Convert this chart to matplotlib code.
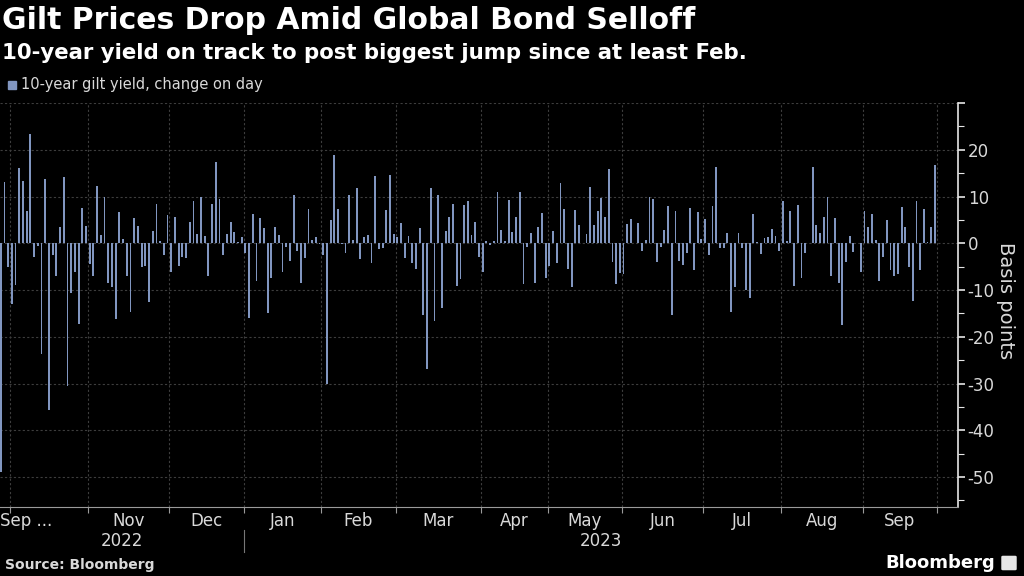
import matplotlib
matplotlib.use("Agg")
import numpy as np
import matplotlib.pyplot as plt
from matplotlib.patches import Rectangle, FancyBboxPatch
from matplotlib.ticker import MultipleLocator, FixedLocator, NullFormatter

plt.rcParams["axes.unicode_minus"] = False

# daily change of the UK 10-year gilt yield, basis points
change_bp = [
    -49, 13.2, -5, -12.9, -8.9, 16, 13.4, 7, 23.4, -2.9, -0.6, -23.6, 13.7,
    -35.7, -2.5, -7, 3.4, 14.1, -30.6, -10.7, -6.1, -17.3, 7.5, 3.7, -4.4, -7,
    12.3, 1.7, 10, -8.4, -9.3, -16.3, 6.6,
    0.9, -7.1, -14.6, 5.4, 3.7, -5.1, -4.9, -12.5, 2.6, 8.4, 0.4, -2.5, 6.1,
    -6.1, 5.6, -4.9, -2.9, -3.2, 4.6, 9.1, 2, 10, 1.6, -7.1, 8.4, 17.3, 9.4,
    -2.5, 1.9, 4.6, 2.5,
    0.3, 1.3, -2.1, -15.9, 6.3, -8, 5.4, 3.2, -14.9, -7.4, 3.4, 1.8, -6.1,
    -0.9, -3.7, 10.3, -1.6, -8.4, -3.2, 7.4, 0.6, 1.3, -0.2, -2.5, -30, 5,
    18.9, 7.3, -0.2, -2, 10.4,
    0.6, 11.9, -3.4, 1.3, 1.7, -4.3, 14.3, -1.3, -1.1, 7.1, 14.6, 2, 1.3, 4.3,
    -3.2, 1.6, -4.3, -5.6, 3.2, -15.4, -26.8, 11.8, -16.6, 10.4, -13.9, 2.6,
    5.7, 8.4, -9.1, -7.6, 8.2,
    9.1, 1.7, 4.6, -2.9, -6.1, 0.4, -0.4, 0.4, 11, 2.9, 0.4, 9.2, 2.4, 5.6,
    10.9, -8.7, -0.9, 2.2, -8.6, 3.5, 6.4, -7.5, -4.9, 2.6, -4.3, 12.9, 7.4,
    -5.4, -9.3, 7.1, 3.9,
    0.1, 2, 12.1, 3.9, 6.8, 9.6, 5.6, 15.9, -3.9, -8.7, -6.3, -6.5, 4.1, 5.1,
    0.1, 4.4, -1.7, 0.7, 10, 9.5, -4.1, -0.7, 2.9, 7.9, -15.4, 6.8, -3.7,
    -4.6, -2, 7.5, -5.7,
    6.6, 0.9, 5.1, -2.5, 7.9, 16.4, -1.1, -1.1, 2.1, -14.8, -9.3, 2.1, -1.1,
    -10, -11.6, 6.2, 0.3, -2.3, 1.1, 1.4, 3, 1.6, -1.6, 9, 0.4, 6.8, -9.1,
    8.1, -7.5, -2,
    0.1, 16.3, 3.9, 2.3, 5.7, 10, -7.1, 5.4, -8.4, -17.5, -4.1, 1.6, -1.8,
    0.1, -6.2, 6.8, 3.5, 6.2, 0.7, -8, -3, 4.9, -5.7, -6.9, -6.5, 7.7, 3.4,
    -5, -12.4, 9, -5.7, 7.4, 0.2, 3.4, 16.7,
]

# trading days per month, Sep 2022 .. Sep 2023
month_days = [3, 21, 22, 20, 21, 20, 23, 18, 20, 22, 21, 22, 20]
month_names = ["Sep ...", "", "Nov", "Dec", "Jan", "Feb", "Mar", "Apr",
               "May", "Jun", "Jul", "Aug", "Sep"]
year_labels = ["2022", "2023"]
year_start_month = 4  # Jan 2023 is month index 4

bg = "black"
bar_color = "#8196c0"
grid_color = "#3d3d3d"
text_color = "#d9d9d9"

fig = plt.figure(figsize=(10.24, 5.76), dpi=100, facecolor=bg)
ax = fig.add_axes([0.0, 0.1198, 0.9355, 0.7014], facecolor=bg)

x = np.arange(len(change_bp))
ax.bar(x, change_bp, width=0.5, color=bar_color, zorder=3)

edges = np.concatenate([[0], np.cumsum(month_days)]) - 0.5
x_lo, x_hi = -0.2, 258.2
ax.set_xlim(x_lo, x_hi)
ax.set_ylim(-56.4, 30)

# x axis: month boundaries as ticks + dotted grid
ax.xaxis.set_major_locator(FixedLocator(edges[1:]))
ax.xaxis.set_major_formatter(NullFormatter())
ax.tick_params(axis="x", length=4, color="#9a9a9a", width=0.8)
ax.xaxis.grid(True, linestyle=(0, (2, 2)), color=grid_color, lw=0.8)

# y axis on the right
ax.yaxis.tick_right()
ax.yaxis.set_major_locator(FixedLocator(np.arange(-50, 31, 10)))
ax.yaxis.set_minor_locator(MultipleLocator(5))
ax.set_yticklabels([str(v) if v < 30 else "" for v in range(-50, 31, 10)])
ax.tick_params(axis="y", which="major", length=5, width=1.2, color="#e6e6e6",
               labelcolor=text_color, labelsize=12, pad=2)
ax.tick_params(axis="y", which="minor", length=4, width=0.8, color="#e6e6e6")
ax.yaxis.grid(True, which="major", linestyle=(0, (2, 2)), color=grid_color, lw=0.8)
ax.set_axisbelow(True)

for s in ["top", "left"]:
    ax.spines[s].set_visible(False)
ax.spines["bottom"].set_color("#9a9a9a")
ax.spines["right"].set_color("#e6e6e6")
ax.spines["right"].set_linewidth(1.2)

# month labels centred in each month
tr = ax.get_xaxis_transform()
for i, name in enumerate(month_names):
    if not name:
        continue
    if i == 0:
        ax.text(x_lo, -0.035, name, transform=tr, ha="left", va="center",
                color=text_color, fontsize=12)
    else:
        ax.text((edges[i] + edges[i + 1]) / 2, -0.035, name, transform=tr,
                ha="center", va="center", color=text_color, fontsize=12)

# year labels + separator
jan = edges[year_start_month]
ax.text((x_lo + jan) / 2, -0.084, year_labels[0], transform=tr, ha="center",
        va="center", color=text_color, fontsize=12)
ax.text((jan + x_hi) / 2, -0.084, year_labels[1], transform=tr, ha="center",
        va="center", color=text_color, fontsize=12)
ax.plot([jan, jan], [-0.057, -0.111], transform=tr, color="#777777", lw=0.8,
        clip_on=False)

fig.text(0.982, 0.479, "Basis points", rotation=270, ha="center", va="center",
         color=text_color, fontsize=14)

# titles
fig.text(0.002, 0.99, "Gilt Prices Drop Amid Global Bond Selloff", ha="left",
         va="top", color="white", fontsize=21.5, fontweight="bold")
fig.text(0.002, 0.925, "10-year yield on track to post biggest jump since at least Feb.",
         ha="left", va="top", color="white", fontsize=15.3, fontweight="bold")

# legend
fig.add_artist(Rectangle((8 / 1024, 1 - 89 / 576), 8 / 1024, 8 / 576,
                         transform=fig.transFigure, color=bar_color))
fig.text(21 / 1024, 1 - 85 / 576, "10-year gilt yield, change on day",
         ha="left", va="center", color=text_color, fontsize=10.5)

# footer
fig.text(5 / 1024, 1 - 565 / 576, "Source: Bloomberg", ha="left", va="center",
         color=text_color, fontsize=10, fontweight="bold")
fig.text(995 / 1024, 1 - 563 / 576, "Bloomberg", ha="right", va="center",
         color="white", fontsize=13, fontweight="semibold")
fig.add_artist(FancyBboxPatch((1003 / 1024, 1 - 569 / 576), 12 / 1024, 12 / 576,
                              boxstyle="round,pad=0.001", transform=fig.transFigure,
                              color="#e6e6e6"))

fig.savefig("out.png", dpi=100, facecolor=bg)
